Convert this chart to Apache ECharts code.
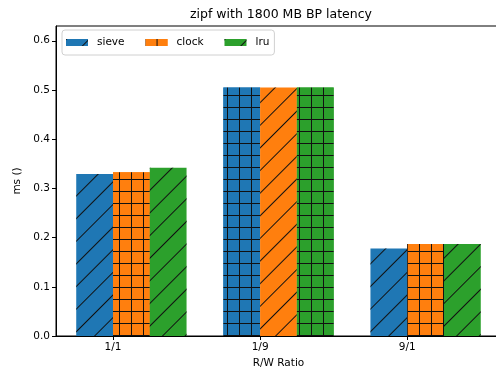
<!DOCTYPE html>
<html>
<head>
<meta charset="utf-8">
<script src="https://cdn.jsdelivr.net/npm/echarts@6/dist/echarts.min.js"></script>
<style>
  html, body { margin: 0; padding: 0; background: #fff; }
  #chart { width: 496px; height: 368px; }
</style>
</head>
<body>
<div id="chart"></div>
<script>
var categories = ['1/1', '1/9', '9/1'];
var sieve = [0.329, 0.505, 0.178];
var clock = [0.333, 0.505, 0.187];
var lru = [0.342, 0.505, 0.187];
var yTicks = [0, 0.1, 0.2, 0.3, 0.4, 0.5, 0.6];
// hatch per bar: 's' = '/', 'g' = '+'
var hatchSieve = ['s', 'g', 's'];
var hatchClock = ['g', 's', 'g'];
var hatchLru = ['s', 'g', 's'];

var font = 'DejaVu Sans';
var barW = 445 * 0.25 / 3.025;

function decal(kind, color) {
  if (kind === 'g') {
    return { symbol: 'rect', symbolSize: 1, color: color, backgroundColor: '#111',
             dashArrayX: [11, 1], dashArrayY: [11, 1], rotation: 0 };
  }
  return { symbol: 'rect', symbolSize: 1, color: '#111',
           dashArrayX: [1, 0], dashArrayY: [1, 15], rotation: -Math.PI / 4 };
}

function makeSeries(name, vals, hatch, offset, color, legendHatch) {
  return {
    name: name,
    type: 'bar',
    barWidth: barW,
    barGap: '-100%',
    itemStyle: { color: color, decal: decal(legendHatch, color) },
    data: vals.map(function (v, i) {
      return { value: [i + offset, v], itemStyle: { decal: decal(hatch[i], color) } };
    })
  };
}

var myChart = echarts.init(document.getElementById('chart'));
var option = {
  animation: false,
  title: {
    text: 'zipf with 1800 MB BP latency',
    left: 185, top: 3,
    textStyle: { fontFamily: font, fontSize: 12.5, fontWeight: 'normal', color: '#000' }
  },
  legend: {
    left: 62, top: 30,
    padding: [7, 5, 7, 4],
    itemWidth: 22, itemHeight: 7, itemGap: 21,
    borderColor: '#d0d0d0', borderWidth: 1, borderRadius: 3,
    backgroundColor: 'rgba(255,255,255,0.8)',
    icon: 'rect',
    textStyle: { fontFamily: font, fontSize: 10.5, color: '#000', padding: [0, 0, 0, 4] },
    data: ['sieve', 'clock', 'lru']
  },
  grid: {
    left: 56, top: 26, bottom: 32, width: 445,
    outerBoundsMode: 'none', containLabel: false,
    show: true, borderColor: '#000', borderWidth: 1, backgroundColor: 'transparent'
  },
  xAxis: {
    type: 'value',
    min: -0.3875, max: 2.6375,
    name: 'R/W Ratio', nameLocation: 'middle', nameGap: 21,
    nameTextStyle: { fontFamily: font, fontSize: 10.5, color: '#000' },
    axisLine: { show: true, onZero: false, lineStyle: { color: '#000', width: 1 } },
    axisTick: { show: true, length: 4, customValues: [0, 1, 2], lineStyle: { color: '#000' } },
    axisLabel: {
      customValues: [0, 1, 2], margin: 6,
      fontFamily: font, fontSize: 10.5, color: '#000',
      formatter: function (v) { return categories[Math.round(v)]; }
    },
    splitLine: { show: false }
  },
  yAxis: {
    type: 'value',
    min: 0, max: 0.63,
    name: 'ms ()', nameLocation: 'middle', nameGap: 28,
    nameTextStyle: { fontFamily: font, fontSize: 10.5, color: '#000' },
    axisLine: { show: true, onZero: false, lineStyle: { color: '#000', width: 1 } },
    axisTick: { show: true, length: 4, customValues: yTicks, lineStyle: { color: '#000' } },
    axisLabel: {
      customValues: yTicks, margin: 6,
      fontFamily: font, fontSize: 10.5, color: '#000',
      formatter: function (v) { return v.toFixed(1); }
    },
    splitLine: { show: false }
  },
  series: [
    makeSeries('sieve', sieve, hatchSieve, -0.125, '#1f77b4', 's'),
    makeSeries('clock', clock, hatchClock, 0.125, '#ff7f0e', 'g'),
    makeSeries('lru', lru, hatchLru, 0.375, '#2ca02c', 's')
  ]
};
myChart.setOption(option);
</script>
</body>
</html>
